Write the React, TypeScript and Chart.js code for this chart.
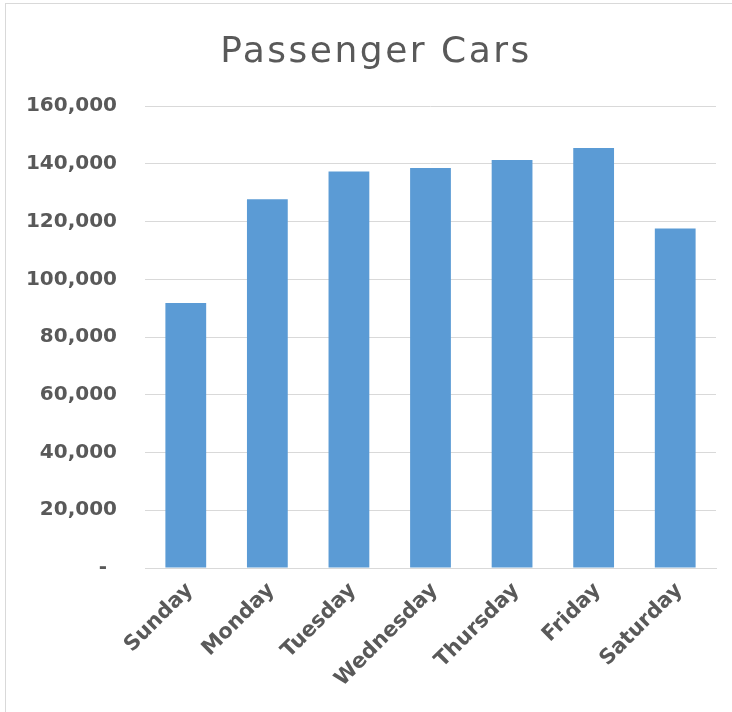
import React, { useEffect, useRef } from 'react';
import { Chart, registerables } from 'chart.js';

Chart.register(...registerables);

const categories = ['Sunday', 'Monday', 'Tuesday', 'Wednesday', 'Thursday', 'Friday', 'Saturday'];
const passengerCars = [91800, 127800, 137400, 138600, 141400, 145500, 117600];
const yTickLabels = ['-\u2002', '20,000', '40,000', '60,000', '80,000', '100,000', '120,000', '140,000', '160,000'];
const chartTitle = 'Passenger Cars';

const CANVAS_W = 738;
const CANVAS_H = 716;

export default function App() {
  const ref = useRef<HTMLCanvasElement>(null);

  useEffect(() => {
    const canvas = ref.current;
    if (!canvas) return;

    const titleSpacing = {
      id: 'titleSpacing',
      afterInit(chart: any) {
        const tb = chart.titleBlock;
        if (tb && !tb.__wrapped) {
          const orig = tb.draw.bind(tb);
          tb.draw = (...args: any[]) => {
            const ctx = chart.ctx;
            ctx.save();
            ctx.letterSpacing = '2.5px';
            ctx.translate(7, 0);
            orig(...args);
            ctx.restore();
          };
          tb.__wrapped = true;
        }
      },
    };

    const chart = new Chart(canvas, {
      type: 'bar',
      data: {
        labels: categories,
        datasets: [
          {
            label: chartTitle,
            data: passengerCars,
            backgroundColor: '#5B9BD5',
            borderWidth: 0,
            barPercentage: 0.5,
            categoryPercentage: 1.0,
          },
        ],
      },
      options: {
        responsive: false,
        animation: false,
        devicePixelRatio: 1,
        layout: { padding: { left: 16, right: 28, top: 0, bottom: 0 } },
        plugins: {
          legend: { display: false },
          tooltip: { enabled: false },
          title: {
            display: true,
            text: chartTitle,
            color: '#595959',
            font: { family: 'DejaVu Sans', size: 36, weight: 'normal', lineHeight: 1.2 },
            padding: { top: 27, bottom: 32 },
          },
        },
        scales: {
          x: {
            grid: { display: false, drawTicks: false },
            border: { display: true, color: '#d9d9d9', width: 1 },
            ticks: {
              color: '#595959',
              font: { family: 'DejaVu Sans', size: 21, weight: 'bold' },
              minRotation: 45,
              maxRotation: 45,
              padding: 10,
              labelOffset: 4,
              autoSkip: false,
            },
            afterFit(scale: any) {
              scale.height = CANVAS_H - 564;
            },
          },
          y: {
            min: 0,
            max: 160000,
            grid: { color: '#d9d9d9', lineWidth: 1, drawTicks: false },
            border: { display: false },
            ticks: {
              stepSize: 20000,
              color: '#595959',
              font: { family: 'DejaVu Sans', size: 20, weight: 'bold' },
              padding: 28,
              callback: (_v: any, i: number) => yTickLabels[i],
            },
            afterFit(scale: any) {
              scale.width = 123;
            },
          },
        },
      },
      plugins: [titleSpacing],
    });

    return () => chart.destroy();
  }, []);

  return (
    <div style={{ position: 'fixed', inset: 0, overflow: 'hidden', background: '#ffffff' }}>
      <div
        style={{
          position: 'absolute',
          left: 5,
          top: 3,
          width: CANVAS_W + 2,
          height: CANVAS_H + 2,
          border: '1px solid #d9d9d9',
          boxSizing: 'border-box',
        }}
      >
        <canvas ref={ref} width={CANVAS_W} height={CANVAS_H} style={{ display: 'block' }} />
      </div>
    </div>
  );
}
